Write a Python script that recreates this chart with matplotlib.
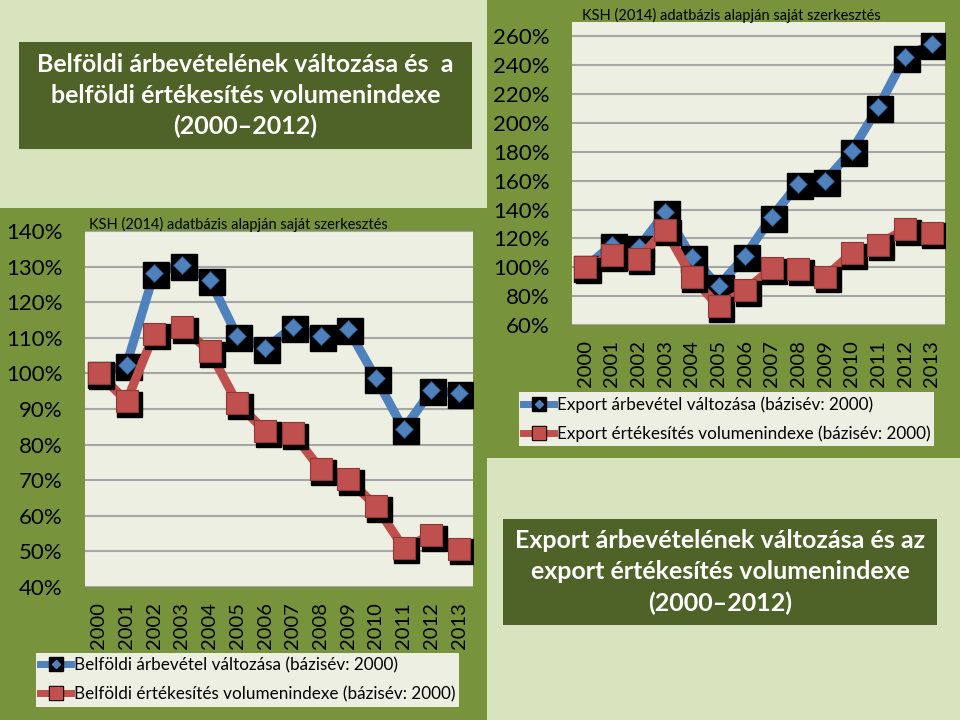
import matplotlib
matplotlib.use('Agg')
import matplotlib.pyplot as plt
from matplotlib.patches import Rectangle
from matplotlib.lines import Line2D
from matplotlib.legend_handler import HandlerTuple
from matplotlib.transforms import offset_copy
from matplotlib.ticker import FuncFormatter

plt.rcParams['font.family'] = ['Lato', 'DejaVu Sans']

# data
years = [str(y) for y in range(2000, 2014)]
belfold_arbevetel = [100, 102.5, 128.3, 130.5, 126.3, 110.4, 107, 113, 110.6, 112.4, 98.6, 84.3, 95.2, 94.4]
belfold_volumen = [100, 92.2, 111.2, 113, 106.2, 91.6, 83.8, 83.2, 73.1, 70.3, 62.7, 51, 54.6, 50.7]
export_arbevetel = [100, 115.5, 113.8, 138, 107, 87, 108, 135, 158, 160, 180.7, 211, 246, 254.5]
export_volumen = [100, 108.3, 106, 126, 93.4, 73, 84, 99.3, 98.6, 93.4, 109.7, 115.6, 126.5, 124]

belfold_labels = ['Belföldi árbevétel változása (bázisév: 2000)',
                  'Belföldi értékesítés volumenindexe (bázisév: 2000)']
export_labels = ['Export árbevétel változása (bázisév: 2000)',
                 'Export értékesítés volumenindexe (bázisév: 2000)']
source = 'KSH (2014) adatbázis alapján saját szerkesztés'
title_left = 'Belföldi árbevételének változása és  a\nbelföldi értékesítés volumenindexe\n(2000–2012)'
title_right = 'Export árbevételének változása és az\nexport értékesítés volumenindexe\n(2000–2012)'

BG = '#d7e4bd'
PANEL = '#77933c'
DARK = '#4f6228'
PLOT_BG = '#eeefe3'
BLUE = '#4f81bd'
RED = '#c0504d'

W, H = 960.0, 720.0


def fx(px):
    return px / W


def fy(py):
    return 1 - py / H


fig = plt.figure(figsize=(9.6, 7.2), dpi=100, facecolor=BG)

# green panels behind the charts
fig.patches.append(Rectangle((0, fy(720)), fx(487), (720 - 208) / H,
                             transform=fig.transFigure, fc=PANEL, ec='none', zorder=-2))
fig.patches.append(Rectangle((fx(487), fy(458)), fx(960 - 487), 458 / H,
                             transform=fig.transFigure, fc=PANEL, ec='none', zorder=-2))

# title boxes
fig.patches.append(Rectangle((fx(19), fy(149)), fx(472 - 19), (149 - 42) / H,
                             transform=fig.transFigure, fc=DARK, ec='none', zorder=-1))
fig.text(fx((19 + 472) / 2), fy((42 + 149) / 2), title_left, ha='center', va='center',
         color='white', fontsize=18, fontweight='bold', linespacing=1.42)
fig.patches.append(Rectangle((fx(503), fy(625)), fx(937 - 503), (625 - 519) / H,
                             transform=fig.transFigure, fc=DARK, ec='none', zorder=-1))
fig.text(fx((503 + 937) / 2), fy((519 + 625) / 2), title_right, ha='center', va='center',
         color='white', fontsize=18, fontweight='bold', linespacing=1.42)


def make_chart(rect, blue_vals, red_vals, ylim, yticks, labels, leg_xy):
    ax = fig.add_axes(rect)
    ax.set_facecolor(PLOT_BG)
    x = list(range(len(years)))

    sh_blue = offset_copy(ax.transData, fig=fig, x=2, y=-2, units='dots')
    sh_red = offset_copy(ax.transData, fig=fig, x=2.5, y=-2.5, units='dots')

    ax.plot(x, blue_vals, color=BLUE, lw=6.5, zorder=3)
    ax.plot(x, blue_vals, 's', ms=19, color='black', ls='none', transform=sh_blue, zorder=4)
    ax.plot(x, blue_vals, 'D', ms=9.5, color=BLUE, mec='#2c4d75', mew=0.6, ls='none', zorder=5)

    ax.plot(x, red_vals, color=RED, lw=6.5, zorder=6)
    ax.plot(x, red_vals, 's', ms=18, color='black', ls='none', transform=sh_red, zorder=7)
    ax.plot(x, red_vals, 's', ms=16, color=RED, mec='#8c3836', mew=0.8, ls='none', zorder=8)

    ax.set_xlim(-0.5, len(years) - 0.5)
    ax.set_ylim(*ylim)
    ax.set_yticks(yticks)
    ax.yaxis.set_major_formatter(FuncFormatter(lambda v, _: f'{v:.0f}%'))
    ax.set_xticks(x)
    ax.set_xticklabels(years, rotation=90)
    ax.tick_params(axis='y', length=0, pad=16, labelsize=16)
    ax.tick_params(axis='x', length=0, pad=11, labelsize=14.5)
    ax.grid(axis='y', color='#a6a6a6', lw=1.5, zorder=1)
    ax.set_axisbelow(True)
    for s in ax.spines.values():
        s.set_visible(False)

    h_blue = (Line2D([], [], color=BLUE, lw=5),
              Line2D([], [], marker='s', ms=9.5, color='black', ls='none'),
              Line2D([], [], marker='D', ms=4.5, color=BLUE, ls='none'))
    h_red = (Line2D([], [], color=RED, lw=5),
             Line2D([], [], marker='s', ms=9.5, color='black', ls='none'),
             Line2D([], [], marker='s', ms=8, color=RED, ls='none'))
    ax.legend([h_blue, h_red], labels, handler_map={tuple: HandlerTuple(ndivide=1)},
              loc='upper left', bbox_to_anchor=leg_xy, bbox_transform=fig.transFigure,
              borderaxespad=0, frameon=True, fancybox=False, facecolor=PLOT_BG,
              edgecolor='none', framealpha=1, fontsize=12.3, handlelength=1.8,
              handletextpad=0.15, labelspacing=0.75, borderpad=0.25)
    return ax


make_chart([fx(85), fy(587), fx(473 - 85), (587 - 231) / H],
           belfold_arbevetel, belfold_volumen, (40, 140), list(range(40, 141, 10)),
           belfold_labels, (fx(36), fy(653)))
make_chart([fx(572), fy(325), fx(945 - 572), (325 - 22) / H],
           export_arbevetel, export_volumen, (60, 270), list(range(60, 261, 20)),
           export_labels, (fx(519), fy(392)))

fig.text(fx(89), fy(224), source, fontsize=10.5, va='center', ha='left')
fig.text(fx(582), fy(15), source, fontsize=10.5, va='center', ha='left')

fig.savefig('out.png', dpi=100, facecolor=BG)
